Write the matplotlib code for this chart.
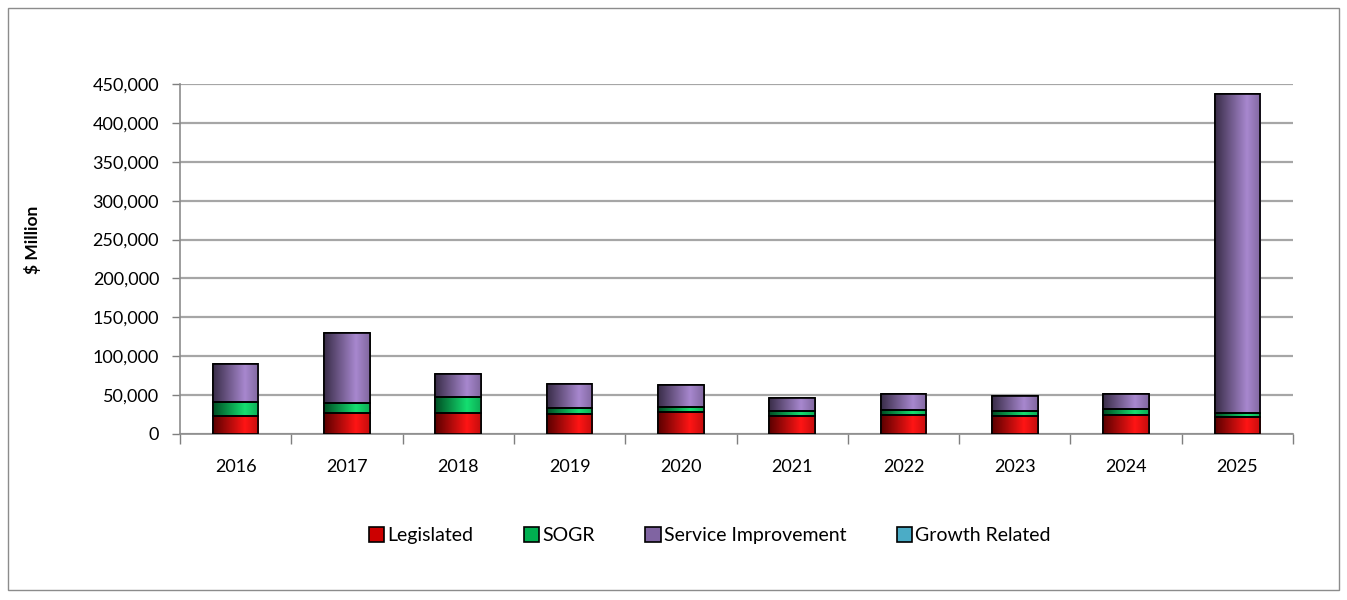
import matplotlib.pyplot as plt
import matplotlib.colors as mcolors
import numpy as np
from matplotlib.patches import Rectangle
from matplotlib.ticker import FuncFormatter, FixedLocator

years = ['2016', '2017', '2018', '2019', '2020', '2021', '2022', '2023', '2024', '2025']
legislated = [23000, 27000, 27000, 25500, 28000, 23000, 25000, 23500, 24000, 22000]
sogr = [18000, 13000, 20000, 8000, 7000, 6000, 5500, 6500, 8000, 5000]
service_improvement = [49000, 90000, 30500, 30500, 27500, 17000, 20500, 18500, 20000, 410000]
growth_related = [0, 0, 0, 0, 0, 0, 0, 0, 0, 0]

series = [
    ('Legislated', legislated, '#cc0000'),
    ('SOGR', sogr, '#00b050'),
    ('Service Improvement', service_improvement, '#8064a2'),
    ('Growth Related', growth_related, '#4bacc6'),
]

plt.rcParams['font.family'] = ['Lato', 'DejaVu Sans']

fig = plt.figure(figsize=(13.47, 6), dpi=100)
ax = fig.add_axes([0.1336, 0.2767, 0.8264, 0.5833])

# outer chart frame
fig.patches.append(Rectangle((0.006, 0.017), 0.988, 0.97, transform=fig.transFigure,
                             fill=False, edgecolor='#8c8c8c', lw=1))

x = np.arange(len(years))
bottom = np.zeros(len(years))
handles = []
for name, vals, color in series:
    vals = np.array(vals, dtype=float)
    bars = ax.bar(x, vals, 0.41, bottom=bottom, color=color, edgecolor='black',
                  lw=1.2, zorder=3, label=name)
    handles.append(bars)
    # cylinder-like shading
    base = np.array(mcolors.to_rgb(color))
    dark = base * 0.45
    light = np.clip(base * 1.15 + 0.08, 0, 1)
    t = np.linspace(0, 1, 64)
    shade = np.where(t < 0.7, t / 0.7, 1 - (t - 0.7) / 0.3 * 0.35)
    grad = dark[None, :] + (light - dark)[None, :] * shade[:, None]
    for p in bars.patches:
        if p.get_height() <= 0:
            continue
        bx, by = p.get_x(), p.get_y()
        im = ax.imshow(grad[None, :, :], extent=[bx, bx + p.get_width(), by, by + p.get_height()],
                       aspect='auto', zorder=3.5, interpolation='bilinear')
        im.set_clip_path(p)
        ax.add_patch(Rectangle((bx, by), p.get_width(), p.get_height(), fill=False,
                               edgecolor='black', lw=1.2, zorder=4))
    bottom += vals

ax.set_xlim(-0.5, len(years) - 0.5)
ax.set_ylim(0, 450000)
ax.set_yticks(np.arange(0, 450001, 50000))
ax.yaxis.set_major_formatter(FuncFormatter(lambda v, _: f'{int(v):,}'))
ax.set_xticks(x)
ax.set_xticklabels(years)
ax.xaxis.set_minor_locator(FixedLocator(np.arange(-0.5, len(years), 1)))
ax.tick_params(axis='x', which='major', length=0, pad=18, labelsize=13)
ax.tick_params(axis='x', which='minor', length=7, color='#7f7f7f', width=1)
ax.tick_params(axis='y', length=6, color='#7f7f7f', width=1, labelsize=13, pad=9)

ax.yaxis.grid(True, color='#a6a6a6', lw=1.6, zorder=0)
ax.set_axisbelow(True)
for s in ['top', 'right']:
    ax.spines[s].set_visible(False)
for s in ['left', 'bottom']:
    ax.spines[s].set_color('#8c8c8c')
    ax.spines[s].set_linewidth(1.2)

ax.set_ylabel('$ Million', fontsize=12.5, fontweight='bold')
ax.yaxis.set_label_coords(-0.125, 0.555)

fig.legend(handles=handles, loc='center', bbox_to_anchor=(0.527, 0.107), ncol=4,
           frameon=False, fontsize=14, handlelength=0.8, handleheight=0.8,
           handletextpad=0.15, columnspacing=2.6)

fig.savefig('out.png', dpi=100)
